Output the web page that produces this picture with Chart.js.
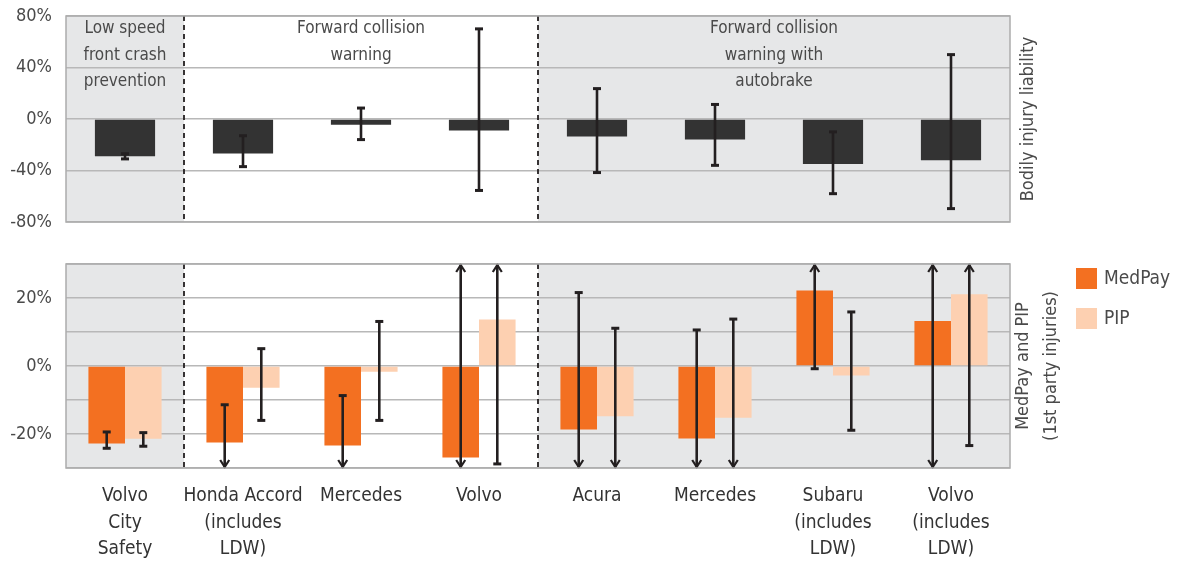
<!DOCTYPE html>
<html>
<head>
<meta charset="utf-8">
<script src="https://cdn.jsdelivr.net/npm/chart.js@4.4.1/dist/chart.umd.min.js"></script>
<style>
    body { margin: 0; background: #fff; }
    #wrap { position: relative; width: 1188px; height: 564px; }
    .panel { position: absolute; left: 0; width: 1188px; }
    #topPanel { top: 0; height: 240px; }
    #bottomPanel { top: 240px; height: 324px; }
</style>
</head>
<body>
<div id="wrap">
    <div class="panel" id="topPanel"><canvas id="bodilyChart"></canvas></div>
    <div class="panel" id="bottomPanel"><canvas id="medpayChart"></canvas></div>
</div>
<script>
// Vehicles (categories)
const vehicles = [
    ['Volvo', 'City', 'Safety'],
    ['Honda Accord', '(includes', 'LDW)'],
    'Mercedes',
    'Volvo',
    'Acura',
    'Mercedes',
    ['Subaru', '(includes', 'LDW)'],
    ['Volvo', '(includes', 'LDW)']
];

// Feature groups: label lines, first and last category index, shaded or not
const groupLabels = [
    ['Low speed', 'front crash', 'prevention'],
    ['Forward collision', 'warning'],
    ['Forward collision', 'warning with', 'autobrake']
];
const groupStart = [0, 1, 4];
const groupEnd = [0, 3, 7];
const groupShaded = [true, false, true];

// Bodily injury liability (%), with confidence bounds
const bodilyInjury = [-29, -26.7, -4.4, -9, -13.6, -16, -35, -32];
const bodilyLow = [-31, -37, -16, -55.5, -41.6, -36, -58, -69.6];
const bodilyHigh = [-27, -13, 8.5, 70, 23.6, 11.3, -10, 50];

// MedPay and PIP (%), bounds of -40 / 40 run off the axis (drawn as arrows)
const medPay = [-22.8, -22.5, -23.4, -26.9, -18.7, -21.3, 22.2, 13.2];
const medPayLow = [-24.2, -40, -40, -40, -40, -40, -0.8, -40];
const medPayHigh = [-19.4, -11.4, -8.7, 40, 21.6, 10.6, 40, 40];
const pip = [-21.4, -6.4, -1.7, 13.7, -14.8, -15.2, -2.8, 21.1];
const pipLow = [-23.6, -16, -16, -28.8, -40, -40, -18.9, -23.4];
const pipHigh = [-19.6, 5.1, 13.1, 40, 11.1, 13.8, 15.9, 40];

// Tick labels
const bodilyTicks = [-80, -40, 0, 40, 80];
const medpayTicks = [-20, 0, 20];

const FONT = "'DejaVu Sans Condensed', 'Liberation Sans', sans-serif";
const GRID = '#b8b8b8';
const SHADE = '#e6e7e8';
const INK = '#231f20';
const TEXT = '#4a4a4a';

function drawRotated(ctx, lines, cx, cy, gap) {
    ctx.save();
    ctx.translate(cx, cy);
    ctx.rotate(-Math.PI / 2);
    ctx.textAlign = 'center';
    ctx.textBaseline = 'middle';
    lines.forEach((line, i) => {
        ctx.fillText(line, 0, (i - (lines.length - 1) / 2) * gap);
    });
    ctx.restore();
}

const panelDecor = {
    id: 'panelDecor',
    beforeDraw(chart) {
        const { ctx, chartArea: a } = chart;
        const catW = a.width / vehicles.length;
        ctx.save();
        ctx.fillStyle = SHADE;
        groupShaded.forEach((shaded, g) => {
            if (!shaded) return;
            const left = a.left + groupStart[g] * catW;
            const right = a.left + (groupEnd[g] + 1) * catW;
            ctx.fillRect(left, a.top, right - left, a.height);
        });
        ctx.restore();
    },
    afterDatasetsDraw(chart, args, opts) {
        const { ctx, chartArea: a, scales: { y } } = chart;
        const catW = a.width / vehicles.length;
        ctx.save();

        // error bars
        ctx.strokeStyle = INK;
        ctx.lineCap = 'butt';
        (opts.errors || []).forEach((err, di) => {
            const meta = chart.getDatasetMeta(di);
            meta.data.forEach((bar, i) => {
                const lo = err[0][i], hi = err[1][i];
                const x = bar.x;
                const loOut = lo < y.min, hiOut = hi > y.max;
                const yLo = y.getPixelForValue(Math.max(lo, y.min));
                const yHi = y.getPixelForValue(Math.min(hi, y.max));
                ctx.lineWidth = 2.6;
                ctx.beginPath();
                ctx.moveTo(x, yHi);
                ctx.lineTo(x, yLo);
                ctx.stroke();
                [[yHi, hiOut, 1], [yLo, loOut, -1]].forEach(([py, out, dir]) => {
                    ctx.beginPath();
                    if (out) {
                        ctx.lineWidth = 2.2;
                        ctx.moveTo(x - 4.5, py + dir * 8);
                        ctx.lineTo(x, py + dir * 1);
                        ctx.lineTo(x + 4.5, py + dir * 8);
                    } else {
                        ctx.lineWidth = 3;
                        ctx.moveTo(x - 4, py);
                        ctx.lineTo(x + 4, py);
                    }
                    ctx.stroke();
                });
            });
        });

        // dashed group dividers
        ctx.lineWidth = 1.8;
        ctx.setLineDash([5, 4]);
        groupStart.slice(1).forEach(s => {
            const x = a.left + s * catW;
            ctx.beginPath();
            ctx.moveTo(x, a.top);
            ctx.lineTo(x, a.bottom);
            ctx.stroke();
        });
        ctx.setLineDash([]);

        // plot frame
        ctx.strokeStyle = '#acacac';
        ctx.lineWidth = 1.5;
        ctx.strokeRect(a.left, a.top, a.width, a.height);
        ctx.restore();
    },
    afterDraw(chart, args, opts) {
        const { ctx, chartArea: a } = chart;
        const catW = a.width / vehicles.length;
        ctx.save();
        ctx.fillStyle = TEXT;

        if (opts.groupLabels) {
            ctx.font = '17px ' + FONT;
            ctx.textAlign = 'center';
            ctx.textBaseline = 'middle';
            groupLabels.forEach((lines, g) => {
                const cx = a.left + (groupStart[g] + groupEnd[g] + 1) / 2 * catW;
                lines.forEach((line, i) => {
                    ctx.fillText(line, cx, a.top + 13 + i * 26.5);
                });
            });
        }

        if (opts.sideTitle) {
            ctx.font = '18px ' + FONT;
            const cx = a.right + (opts.sideTitle.length > 1 ? 27 : 18);
            drawRotated(ctx, opts.sideTitle, cx, (a.top + a.bottom) / 2, 28);
        }

        if (opts.legend) {
            ctx.font = '19px ' + FONT;
            ctx.textAlign = 'left';
            ctx.textBaseline = 'middle';
            chart.data.datasets.forEach((ds, i) => {
                const top = a.top + 4 + i * 40;
                ctx.fillStyle = ds.backgroundColor;
                ctx.fillRect(a.right + 66, top, 21, 21);
                ctx.fillStyle = TEXT;
                ctx.fillText(ds.label, a.right + 94, top + 11);
            });
        }
        ctx.restore();
    }
};

function yAxis(min, max, step, shown) {
    return {
        min: min,
        max: max,
        afterFit: function(scale) {
            scale.width = 66;
            scale.paddingTop = 0;
            scale.paddingBottom = 0;
        },
        border: { display: false },
        grid: { color: GRID, lineWidth: 1.5, drawTicks: false },
        ticks: {
            stepSize: step,
            padding: 14,
            color: TEXT,
            font: { family: FONT, size: 18 },
            callback: function(value) {
                return shown.includes(value) ? value + '%' : '';
            }
        }
    };
}

Chart.defaults.animation = false;

new Chart(document.getElementById('bodilyChart'), {
    type: 'bar',
    data: {
        labels: vehicles,
        datasets: [{
            label: 'Bodily injury liability',
            data: bodilyInjury,
            backgroundColor: '#333333',
            borderWidth: 0,
            barPercentage: 1,
            categoryPercentage: 0.51
        }]
    },
    options: {
        responsive: true,
        maintainAspectRatio: false,
        layout: { padding: { top: 16, bottom: 18, left: 0, right: 178 } },
        scales: {
            x: { display: false },
            y: yAxis(-80, 80, 40, bodilyTicks)
        },
        plugins: {
            legend: { display: false },
            tooltip: { enabled: false },
            panelDecor: {
                errors: [[bodilyLow, bodilyHigh]],
                groupLabels: true,
                sideTitle: ['Bodily injury liability']
            }
        }
    },
    plugins: [panelDecor]
});

new Chart(document.getElementById('medpayChart'), {
    type: 'bar',
    data: {
        labels: vehicles,
        datasets: [{
            label: 'MedPay',
            data: medPay,
            backgroundColor: '#f37021',
            borderWidth: 0,
            barPercentage: 1,
            categoryPercentage: 0.62
        }, {
            label: 'PIP',
            data: pip,
            backgroundColor: '#fdd0b1',
            borderWidth: 0,
            barPercentage: 1,
            categoryPercentage: 0.62
        }]
    },
    options: {
        responsive: true,
        maintainAspectRatio: false,
        layout: { padding: { top: 24, bottom: 0, left: 0, right: 178 } },
        scales: {
            x: {
                afterFit: function(scale) { scale.height = 96; },
                border: { display: false },
                grid: { display: false },
                ticks: {
                    autoSkip: false,
                    maxRotation: 0,
                    padding: 7,
                    color: '#333',
                    font: { family: FONT, size: 19, lineHeight: 1.4 }
                }
            },
            y: yAxis(-30, 30, 10, medpayTicks)
        },
        plugins: {
            legend: { display: false },
            tooltip: { enabled: false },
            panelDecor: {
                errors: [[medPayLow, medPayHigh], [pipLow, pipHigh]],
                legend: true,
                sideTitle: ['MedPay and PIP', '(1st party injuries)']
            }
        }
    },
    plugins: [panelDecor]
});
</script>
</body>
</html>
